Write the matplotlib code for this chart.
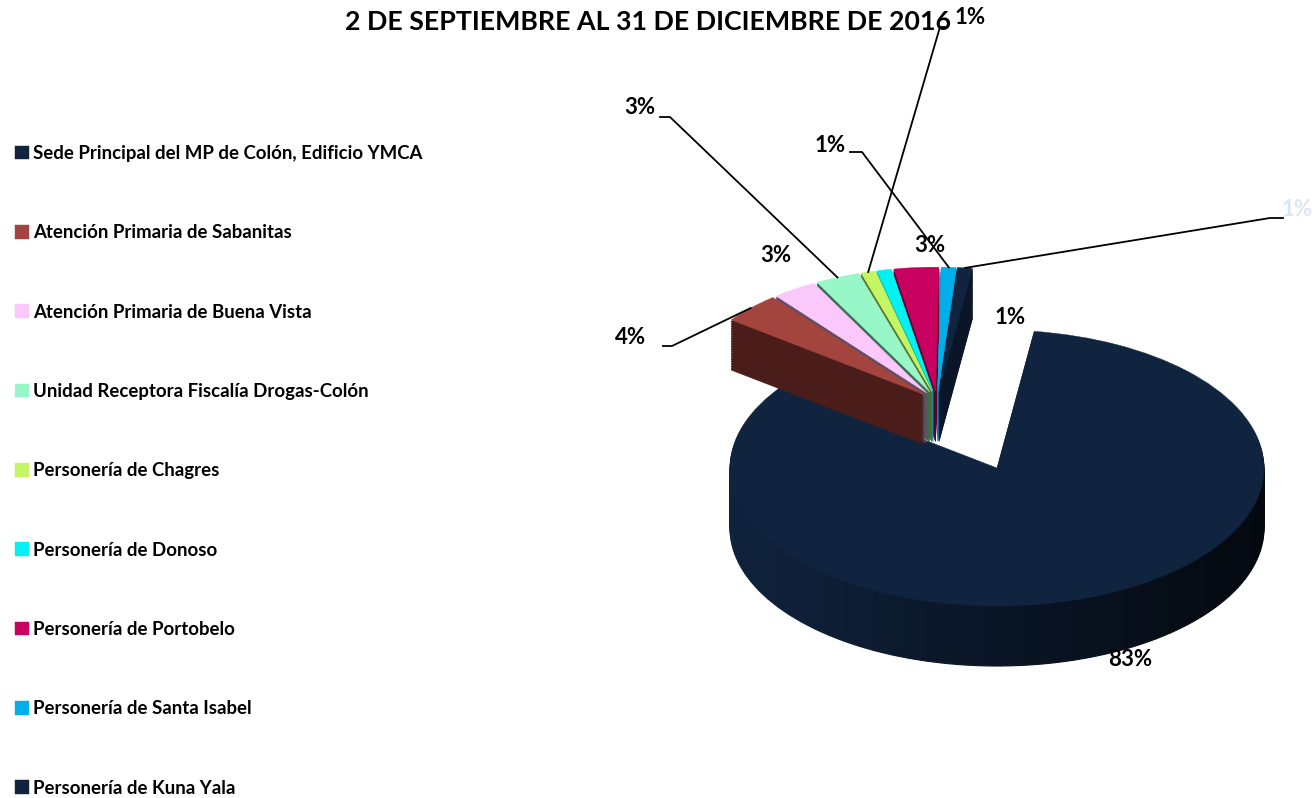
import matplotlib
matplotlib.use("Agg")
import matplotlib.pyplot as plt
from matplotlib.patches import Wedge
import numpy as np

# ---------------- data ----------------
title = "2 DE SEPTIEMBRE AL 31 DE DICIEMBRE DE 2016"
categories = [
    "Sede Principal del MP de Colón, Edificio YMCA",
    "Atención Primaria de Sabanitas",
    "Atención Primaria de Buena Vista",
    "Unidad Receptora Fiscalía Drogas-Colón",
    "Personería de Chagres",
    "Personería de Donoso",
    "Personería de Portobelo",
    "Personería de Santa Isabel",
    "Personería de Kuna Yala",
]
values = [83, 4, 3, 3, 1, 1, 3, 1, 1]
pct_labels = ["83%", "4%", "3%", "3%", "1%", "1%", "3%", "1%", "1%"]

# ---------------- style ----------------
top_colors = ["#10243f", "#a3443f", "#fac8fa", "#98f7c8", "#c4f562",
              "#00f2f2", "#c8005f", "#00aeea", "#10243f"]
side_colors = ["#0a1629", "#4a1c1a", "#624e62", "#3e6a52", "#5a6a2a",
               "#00a0a0", "#5c002c", "#0088bb", "#0a1628"]
side_left = np.array([0x10, 0x22, 0x3c]) / 255.0   # big slice side, left end
side_right = np.array([0x04, 0x09, 0x10]) / 255.0  # big slice side, right end
START = 82
FONT = "Lato"
W, H = 1316, 798
SX, SY = 267.0, 138.0      # pixels per data unit (x, y) -> tilted pie
CX, CY = 997.0, 468.0      # main pie centre in pixels (from top-left)
NLAYERS = 30

# two groups: the big slice, and the exploded group of small slices
groups = [
    dict(center=(997, 468), depth=60, idx=[0], explode=0.0, radius=1.0,
         z=(1, 2), shade=True),
    dict(center=(937, 401), depth=50, idx=list(range(1, 9)), explode=0.07,
         radius=0.9, z=(3, 4), shade=False),
]

fig = plt.figure(figsize=(W / 100, H / 100), dpi=100)
ax = fig.add_axes([0, 0, 1, 1])


def p2d(px, py):
    return ((px - CX) / SX, (CY - py) / SY)


legend_handles = [None] * len(values)
for g in groups:
    gc = p2d(*g["center"])
    dz = g["depth"] / SY
    expl = [g["explode"] if i in g["idx"] else 0.0 for i in range(len(values))]
    for k in range(NLAYERS, -1, -1):
        off = dz * k / NLAYERS
        cols = side_colors if k > 0 else top_colors
        wedges, _ = ax.pie(values, colors=cols, startangle=START,
                           counterclock=False, explode=expl,
                           center=(gc[0], gc[1] - off), radius=g["radius"],
                           frame=True,
                           wedgeprops=dict(linewidth=0.6 if k > 0 else 0.3))
        for i, w in enumerate(wedges):
            if i not in g["idx"]:
                w.set_visible(False)
                continue
            w.set_edgecolor(cols[i])
            w.set_zorder(g["z"][0] if k > 0 else g["z"][1])
            if k == 0:
                legend_handles[i] = w
            elif g["shade"]:
                # horizontal light-to-dark shading of the side wall
                t1, t2 = w.theta1, w.theta2
                edges = np.linspace(t1, t2, int((t2 - t1) / 4) + 2)
                for a0, a1 in zip(edges[:-1], edges[1:]):
                    am = np.deg2rad(0.5 * (a0 + a1))
                    t = (np.cos(am) + 1) / 2
                    c = side_left * (1 - t) + side_right * t
                    ax.add_patch(Wedge(w.center, w.r, a0, a1, facecolor=c,
                                       edgecolor=c, lw=0.8,
                                       zorder=g["z"][0]))
                w.set_visible(False)

ax.set_aspect("auto")
ax.set_xlim(-CX / SX, (W - CX) / SX)
ax.set_ylim((CY - H) / SY, CY / SY)
ax.axis("off")

# ---------------- slice geometry for labels ----------------
total = float(sum(values))
angles = []
a = START
for v in values:
    span = 360.0 * v / total
    angles.append(a - span / 2.0)
    a -= span


def anchor(i):
    g = groups[0] if i in groups[0]["idx"] else groups[1]
    gc = p2d(*g["center"])
    th = np.deg2rad(angles[i])
    r = g["radius"] + g["explode"]
    return (gc[0] + r * np.cos(th), gc[1] + r * np.sin(th))


lab_kw = dict(fontsize=16, fontweight="bold", family=FONT, ha="center",
              va="center", zorder=10)

# label positions (pixels) and optional leader elbows (pixels)
label_pos = {0: (1130, 660), 1: (631, 338), 2: (776, 256), 3: (640, 108),
             4: (970, 17), 5: (1010, 318), 6: (930, 245), 7: (830, 145),
             8: (1297, 210)}
leaders = {1: [(663, 346), (672, 346)], 3: [(660, 117), (670, 117)],
           4: [(946, 27), (940, 27)], 7: [(850, 152), (862, 152)],
           8: [(1283, 218), (1270, 218)]}
label_colors = {8: "#dce6f2"}

for i, txt in enumerate(pct_labels):
    x, y = p2d(*label_pos[i])
    ax.text(x, y, txt, color=label_colors.get(i, "black"), **lab_kw)
    if i in leaders:
        pts = [p2d(*p) for p in leaders[i]] + [anchor(i)]
        xs, ys = zip(*pts)
        ax.plot(xs, ys, color="black", lw=1.3, zorder=9)

# ---------------- title ----------------
fig.text(648 / W, 1 - 22 / H, title, ha="center", va="center",
         fontsize=19.3, fontweight="bold", family=FONT)

# ---------------- legend ----------------
leg = fig.legend(legend_handles, categories, loc="upper left",
                 bbox_to_anchor=(15 / W, 1 - 145 / H), frameon=False,
                 prop=dict(family=FONT, weight="bold", size=13.4),
                 labelspacing=3.35, handlelength=0.75, handleheight=0.75,
                 handletextpad=0.2, borderaxespad=0, borderpad=0)

fig.savefig("out.png", dpi=100, facecolor="white")
